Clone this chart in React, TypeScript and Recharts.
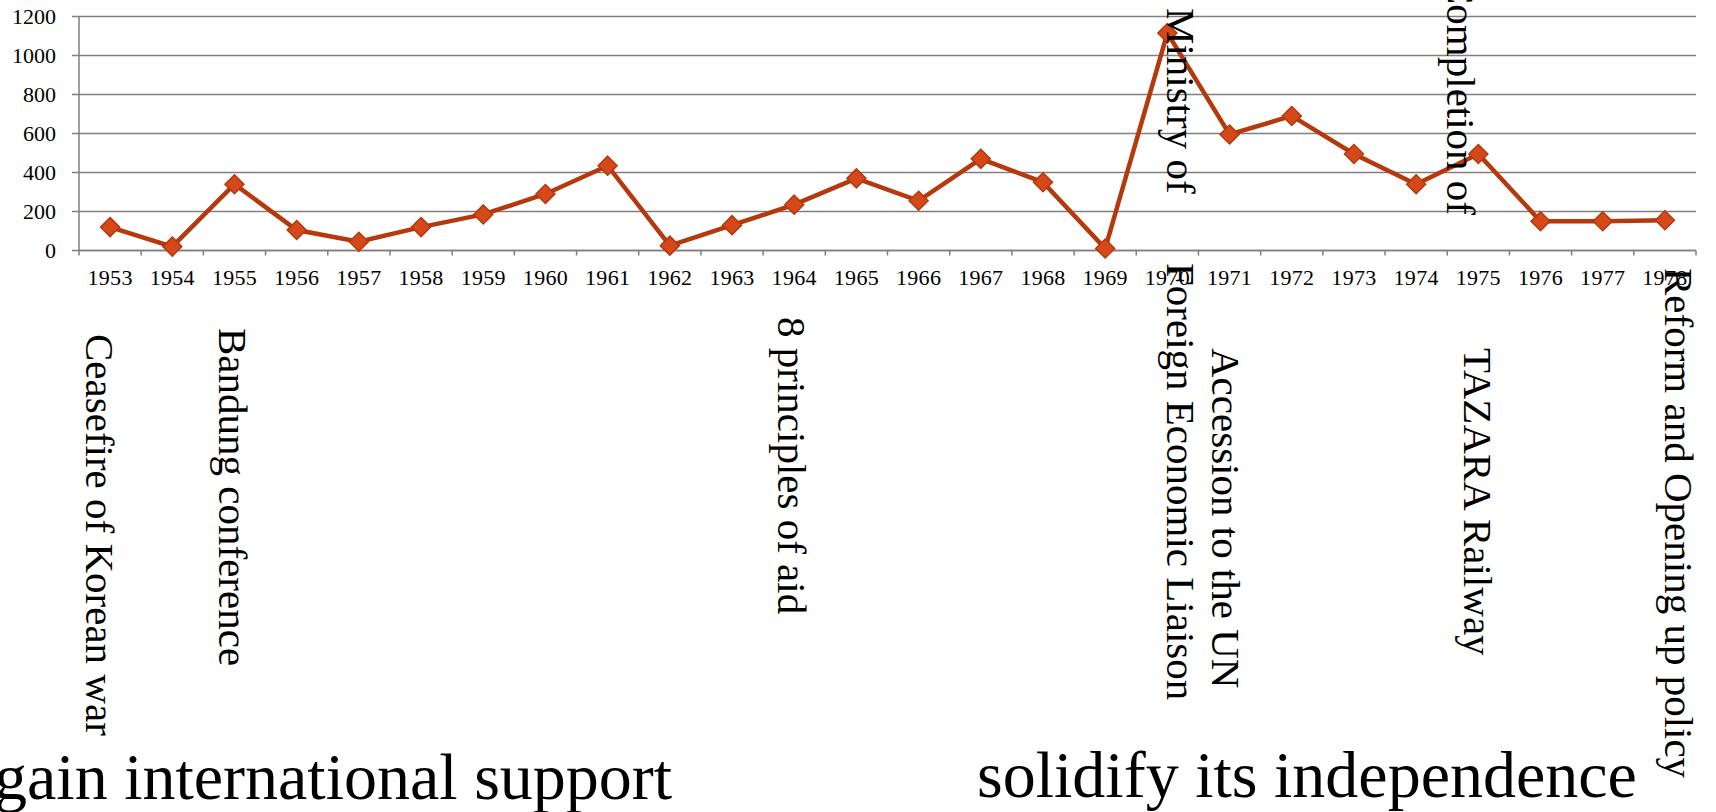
import { LineChart, Line, XAxis, YAxis, CartesianGrid } from "recharts";

const YEARS = [
  "1953", "1954", "1955", "1956", "1957", "1958", "1959", "1960", "1961",
  "1962", "1963", "1964", "1965", "1966", "1967", "1968", "1969", "1970",
  "1971", "1972", "1973", "1974", "1975", "1976", "1977", "1978",
];

const AID_VALUES = [
  120, 20, 340, 105, 45, 120, 185, 290, 435, 25, 130, 235, 370, 255, 470,
  350, 10, 1115, 595, 690, 495, 340, 495, 150, 150, 155,
];

const Y_TICKS = [0, 200, 400, 600, 800, 1000, 1200];

const EVENT_LABELS = [
  "Ceasefire of Korean war",
  "Bandung conference",
  "8 principles of aid",
  "Ministry of",
  "Foreign Economic Liaison",
  "Accession to the UN",
  "Completion of",
  "TAZARA Railway",
  "Reform and Opening up policy",
];

const CAPTIONS = ["gain international support", "solidify its independence"];

// layout (px)
const W = 1716;
const H = 812;
const PLOT_LEFT = 79;
const PLOT_RIGHT = 1696;
const PLOT_TOP = 16.5;
const PLOT_BOTTOM = 250.5;
const STEP = (PLOT_RIGHT - PLOT_LEFT) / YEARS.length;
const FONT = "'Liberation Serif', 'Times New Roman', serif";
const GRID = "#7f7f7f";

// where each rotated label starts: [baseline x, top y]
const EVENT_POS = [
  [86, 334],
  [219, 328],
  [778, 317],
  [1167, 8],
  [1167, 263],
  [1212, 348],
  [1447, -23],
  [1464, 348],
  [1665, 268],
];
const CAPTION_POS = [
  [-6, 799],
  [977, 797],
];

const data = YEARS.map((year, i) => ({ year, value: AID_VALUES[i] }));

function YearTick({ x, y, payload }: any) {
  const isLast = payload.value === YEARS[YEARS.length - 1];
  return (
    <g>
      <line x1={x - STEP / 2} y1={PLOT_BOTTOM} x2={x - STEP / 2} y2={PLOT_BOTTOM + 5} stroke={GRID} strokeWidth={1.5} />
      {isLast && (
        <line x1={x + STEP / 2} y1={PLOT_BOTTOM} x2={x + STEP / 2} y2={PLOT_BOTTOM + 5} stroke={GRID} strokeWidth={1.5} />
      )}
      <text x={x} y={y} dy="0.71em" textAnchor="middle" fontSize={22} letterSpacing={0.3} fontFamily={FONT} fill="#000">
        {payload.value}
      </text>
    </g>
  );
}

function Diamond({ cx, cy, index }: any) {
  const r = 9.5;
  return (
    <polygon
      key={`d-${index}`}
      points={`${cx},${cy - r} ${cx + r},${cy} ${cx},${cy + r} ${cx - r},${cy}`}
      fill="#d4481a"
      stroke="#b33a0e"
      strokeWidth={1.5}
    />
  );
}

export default function App() {
  return (
    <div style={{ position: "absolute", left: 0, top: 0, width: W, height: H, overflow: "hidden", background: "#fff" }}>
      <LineChart
        width={W}
        height={H}
        data={data}
        margin={{ top: PLOT_TOP, right: W - PLOT_RIGHT, left: 0, bottom: H - PLOT_BOTTOM - 30 }}
      >
        <CartesianGrid vertical={false} stroke={GRID} strokeWidth={1.5} />
        <XAxis
          dataKey="year"
          scale="band"
          height={30}
          interval={0}
          axisLine={{ stroke: GRID, strokeWidth: 1.5 }}
          tickLine={false}
          tickSize={5}
          tickMargin={14}
          tick={<YearTick />}
        />
        <YAxis
          width={PLOT_LEFT}
          domain={[0, 1200]}
          ticks={Y_TICKS}
          interval={0}
          axisLine={{ stroke: GRID, strokeWidth: 1.5 }}
          tickLine={{ stroke: GRID, strokeWidth: 1.5 }}
          tickSize={7}
          tickMargin={16}
          tick={{ fontSize: 22, fontFamily: FONT, fill: "#000" }}
        />
        <Line
          type="linear"
          dataKey="value"
          stroke="#b5390c"
          strokeWidth={4.5}
          dot={<Diamond />}
          isAnimationActive={false}
        />
      </LineChart>
      <svg
        width={W}
        height={H}
        style={{ position: "absolute", left: 0, top: 0, pointerEvents: "none" }}
      >
        {EVENT_LABELS.map((label, i) => (
          <text
            key={label}
            transform={`translate(${EVENT_POS[i][0]},${EVENT_POS[i][1]}) rotate(90)`}
            fontSize={41}
            fontFamily={FONT}
            fill="#000"
          >
            {label}
          </text>
        ))}
        {CAPTIONS.map((c, i) => (
          <text key={c} x={CAPTION_POS[i][0]} y={CAPTION_POS[i][1]} fontSize={66} fontFamily={FONT} fill="#000">
            {c}
          </text>
        ))}
      </svg>
    </div>
  );
}
